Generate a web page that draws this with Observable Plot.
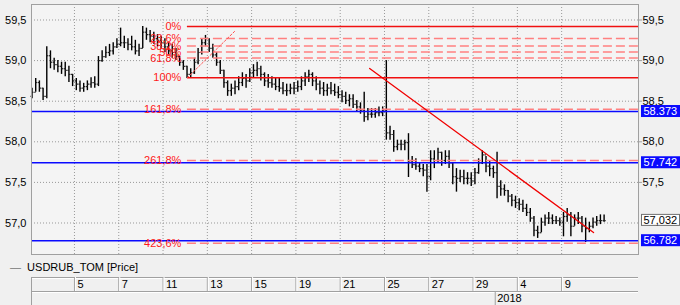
<!DOCTYPE html>
<html><head><meta charset="utf-8">
<script src="https://cdn.jsdelivr.net/npm/d3@7"></script>
<script src="https://cdn.jsdelivr.net/npm/@observablehq/plot@0.6"></script>
<style>
html,body{margin:0;padding:0;background:#f0f0f0;width:680px;height:305px;overflow:hidden;font-family:"Liberation Sans",Arial,sans-serif;}
#wrap{position:relative;width:680px;height:305px;}
#main{position:absolute;left:0;top:0;}
#legend{position:absolute;left:10px;top:261px;font-size:11px;line-height:13px;color:#000;white-space:pre;}
#axis{position:absolute;left:0;top:276px;}
</style></head><body>
<div id="wrap"><div id="main"></div><div id="legend"><span style="color:#777">—</span>  USDRUB_TOM [Price]</div><div id="axis"></div></div>
<script>
// ---- data (x in trading-day units, Dec 1 2017 = 0) ----
const barsPerDay = 6;
const firstOpen = 58.56;
const high = [
58.66,58.78,58.75,58.66,59.17,59.12,59.03,59.00,58.98,58.98,
58.93,58.83,58.78,58.75,58.72,58.75,58.79,58.80,59.05,59.12,
59.17,59.20,59.22,59.27,59.40,59.30,59.27,59.30,59.25,59.20,
59.42,59.40,59.37,59.35,59.32,59.30,59.27,59.22,59.20,59.15,
59.05,59.00,58.93,58.90,59.03,59.15,59.27,59.31,59.27,59.20,
59.10,59.00,58.88,58.75,58.71,58.75,58.80,58.85,58.83,58.90,
58.95,58.98,58.93,58.85,58.83,58.80,58.78,58.78,58.73,58.71,
58.71,58.73,58.75,58.80,58.85,58.88,58.85,58.80,58.75,58.73,
58.71,58.73,58.71,58.68,58.63,58.61,58.58,58.58,58.51,58.48,
58.61,58.41,58.41,58.41,58.43,58.43,59.00,58.19,58.14,58.02,
58.02,58.02,58.10,57.82,57.79,57.74,57.72,57.72,57.89,57.89,
57.92,57.87,57.89,57.89,57.74,57.67,57.65,57.65,57.62,57.62,
57.67,57.79,57.89,57.82,57.77,57.70,57.87,57.52,57.47,57.40,
57.35,57.33,57.30,57.28,57.23,57.18,57.08,56.96,57.06,57.10,
57.13,57.10,57.08,57.06,57.13,57.18,57.13,57.10,57.13,57.08,
57.06,57.01,57.06,57.08,57.10,57.10];
const low = [
58.53,58.61,58.61,58.51,58.53,58.90,58.88,58.85,58.83,58.80,
58.73,58.68,58.63,58.61,58.61,58.63,58.66,58.66,58.68,58.98,
59.03,59.05,59.07,59.15,59.17,59.15,59.12,59.12,59.07,59.05,
59.15,59.25,59.22,59.20,59.17,59.15,59.10,59.07,59.03,59.00,
58.93,58.88,58.78,58.78,58.83,58.95,59.07,59.17,59.10,59.03,
58.93,58.83,58.66,58.56,58.56,58.58,58.63,58.68,58.66,58.73,
58.78,58.80,58.75,58.68,58.66,58.66,58.63,58.61,58.58,58.56,
58.58,58.58,58.61,58.63,58.68,58.73,58.68,58.63,58.58,58.56,
58.56,58.58,58.56,58.53,58.48,58.46,58.43,58.41,58.36,58.34,
58.24,58.26,58.29,58.29,58.31,58.31,58.02,58.02,57.87,57.89,
57.89,57.89,57.56,57.67,57.65,57.62,57.57,57.38,57.52,57.67,
57.74,57.70,57.72,57.67,57.47,57.38,57.50,57.47,57.47,57.45,
57.47,57.60,57.72,57.62,57.57,57.55,57.30,57.33,57.33,57.25,
57.20,57.18,57.15,57.13,57.08,57.01,56.83,56.81,56.88,56.96,
56.98,56.98,56.98,56.96,56.83,57.01,56.83,56.96,56.98,56.88,
56.76,56.88,56.93,56.96,56.98,57.01];
const close = [
58.61,58.73,58.66,58.56,59.06,58.98,58.95,58.93,58.90,58.88,
58.83,58.75,58.71,58.66,58.68,58.71,58.73,58.71,59.00,59.05,
59.10,59.12,59.17,59.20,59.22,59.22,59.20,59.17,59.12,59.15,
59.35,59.32,59.30,59.27,59.25,59.22,59.17,59.12,59.10,59.05,
58.98,58.93,58.83,58.85,58.98,59.10,59.22,59.27,59.15,59.07,
58.98,58.88,58.73,58.63,58.66,58.68,58.73,58.78,58.75,58.85,
58.88,58.90,58.83,58.75,58.73,58.71,58.68,58.66,58.63,58.63,
58.66,58.66,58.68,58.75,58.80,58.83,58.75,58.71,58.66,58.63,
58.66,58.63,58.61,58.58,58.56,58.51,58.53,58.46,58.43,58.39,
58.31,58.34,58.34,58.36,58.36,58.39,58.11,58.09,57.94,57.97,
57.97,57.99,57.75,57.72,57.70,57.67,57.65,57.57,57.79,57.77,
57.87,57.77,57.82,57.74,57.57,57.55,57.57,57.55,57.55,57.52,
57.62,57.74,57.84,57.70,57.67,57.62,57.45,57.42,57.40,57.33,
57.28,57.25,57.23,57.18,57.13,57.06,56.91,56.88,57.01,57.06,
57.06,57.03,57.03,57.01,57.08,57.10,56.96,57.06,57.06,56.96,
56.93,56.96,57.01,57.03,57.03,57.03];

const xStart = 0.06, xEnd = 27.47;          // visible trading-day range
const yMin = 56.612, yMax = 59.691;         // visible price range
const yTicks = [57.0, 57.5, 58.0, 58.5, 59.0, 59.5];
const yTicksRight = [57.5, 58.0, 58.5, 59.0, 59.5];
const tickDays = [2, 4, 6, 8, 10, 12, 14, 16, 18, 20, 22, 24];
const tickLabels = ["5", "7", "11", "13", "15", "19", "21", "25", "27", "29", "4", "9"];
const yearDay = 21, yearLabel = "2018";

const fibStartT = 7.1;
const fibLabels = ["0%", "23,6%", "38,2%", "50%", "61,8%", "100%", "161,8%", "261,8%", "423,6%"];
const fibLevels = [59.42, 59.271, 59.179, 59.105, 59.031, 58.79, 58.401, 57.771, 56.751];
const fibSolid = [true, false, false, false, false, true, false, false, false];
const fibDiagT = [7.1, 9.27], fibDiagP = [58.79, 59.37];

const trendT = [15.33, 25.44], trendP = [58.903, 56.883];

const levelPrices = [58.373, 57.742, 56.782];
const levelTags = ["58.373", "57.742", "56.782"];
const lastPrice = 57.032, lastTag = "57,032";

// ---- build ----
const bars = close.map((c, i) => ({
  t: (i + 0.5) / barsPerDay, high: high[i], low: low[i], close: c,
  open: i === 0 ? firstOpen : close[i - 1]
}));
const fib = fibLabels.map((l, i) => ({label: l, level: fibLevels[i], solid: fibSolid[i]}));
const diag = fibDiagT.map((t, i) => ({t, p: fibDiagP[i]}));
const trend = trendT.map((t, i) => ({t, p: trendP[i]}));
const fmt = d => d.toFixed(1).replace(".", ",");
const tw = 0.07;
const font = '"Liberation Sans", Arial, sans-serif';

const main = Plot.plot({
  width: 680, height: 256, marginTop: 4, marginBottom: 2, marginLeft: 31, marginRight: 42,
  style: {background: "transparent", fontFamily: font, fontSize: "11px", color: "#000", overflow: "visible"},
  x: {domain: [xStart, xEnd], axis: null},
  y: {domain: [yMin, yMax], axis: null},
  marks: [
    Plot.frame({fill: "#f4f4f4", stroke: null}),
    Plot.gridY(yTicks, {stroke: "#999", strokeOpacity: 1, strokeDasharray: "1,2"}),
    Plot.gridX(tickDays, {stroke: "#999", strokeOpacity: 1, strokeDasharray: "1,2"}),
    Plot.ruleX(bars, {x: "t", y1: "low", y2: "high", stroke: "#000", strokeWidth: 1.4}),
    Plot.link(bars, {x1: d => d.t - tw, x2: "t", y1: "open", y2: "open", stroke: "#222", strokeWidth: 1.2}),
    Plot.link(bars, {x1: "t", x2: d => d.t + tw, y1: "close", y2: "close", stroke: "#222", strokeWidth: 1.2}),
    Plot.ruleY(levelPrices, {stroke: "#0a0aff", strokeWidth: 1.5}),
    Plot.ruleY(fib.filter(d => !d.solid), {y: "level", x1: fibStartT, x2: xEnd, stroke: "#ff8080", strokeWidth: 1.5, strokeDasharray: "9,4"}),
    Plot.ruleY(fib.filter(d => d.solid), {y: "level", x1: fibStartT, x2: xEnd, stroke: "#f01010", strokeWidth: 1.5}),
    Plot.line(diag, {x: "t", y: "p", stroke: "#ff5050", strokeWidth: 1, strokeDasharray: "2,2"}),
    Plot.line(trend, {x: "t", y: "p", stroke: "#f00000", strokeWidth: 1.3}),
    Plot.text(fib, {x: fibStartT, y: "level", text: "label", textAnchor: "end", dx: -6, fill: "#ff1a1a", fontSize: 11}),
    Plot.frame({stroke: "#a0a0a0"}),
    Plot.axisY(yTicks, {anchor: "left", tickSize: 0, tickPadding: 5, tickFormat: fmt, fill: "#000"}),
    Plot.axisY(yTicksRight, {anchor: "right", tickSize: 3, tickPadding: 1, tickFormat: fmt, fill: "#000", stroke: "#a0a0a0"}),
    Plot.rect(levelPrices, {x1: xEnd, x2: xEnd, y1: d => d, y2: d => d, insetLeft: 3, insetRight: -42, insetTop: -6, insetBottom: -6, fill: "#0a0aff"}),
    Plot.text(levelPrices, {x: xEnd, y: d => d, text: (d, i) => levelTags[i], dx: 5, textAnchor: "start", fill: "#fff", fontSize: 11}),
    Plot.rect([lastPrice], {x1: xEnd, x2: xEnd, y1: d => d, y2: d => d, insetLeft: 3.5, insetRight: -41.5, insetTop: -5.5, insetBottom: -5.5, fill: "#fff", stroke: "#707070"}),
    Plot.text([lastPrice], {x: xEnd, y: d => d, text: [lastTag], dx: 5, textAnchor: "start", fill: "#000", fontSize: 11})
  ]
});
document.getElementById("main").appendChild(main);

const axis = Plot.plot({
  width: 680, height: 29, marginTop: 1, marginBottom: 0, marginLeft: 31, marginRight: 42,
  style: {background: "transparent", fontFamily: font, fontSize: "11px", color: "#000", overflow: "visible"},
  x: {domain: [xStart, xEnd], axis: null},
  y: {domain: [2, 0], axis: null},
  marks: [
    Plot.ruleY([0, 1], {x1: xStart, x2: xEnd, stroke: "#a0a0a0"}),
    Plot.ruleY([0, 1], {x1: xStart, x2: xEnd, stroke: "#fff", dy: 1}),
    Plot.ruleX([xStart], {y1: 0, y2: 2, stroke: "#a0a0a0"}),
    Plot.ruleX(tickDays, {y1: 0, y2: 1, stroke: "#a0a0a0"}),
    Plot.ruleX(tickDays, {y1: 0, y2: 1, stroke: "#fff", dx: 1}),
    Plot.ruleX([yearDay], {y1: 1, y2: 2, stroke: "#a0a0a0"}),
    Plot.text(tickDays, {x: d => d, y: 0.5, text: (d, i) => tickLabels[i], dx: 3, textAnchor: "start", fill: "#000"}),
    Plot.text([yearDay], {x: d => d, y: 1.5, text: [yearLabel], dx: 2, textAnchor: "start", fill: "#000"})
  ]
});
document.getElementById("axis").appendChild(axis);
</script>
</body></html>
